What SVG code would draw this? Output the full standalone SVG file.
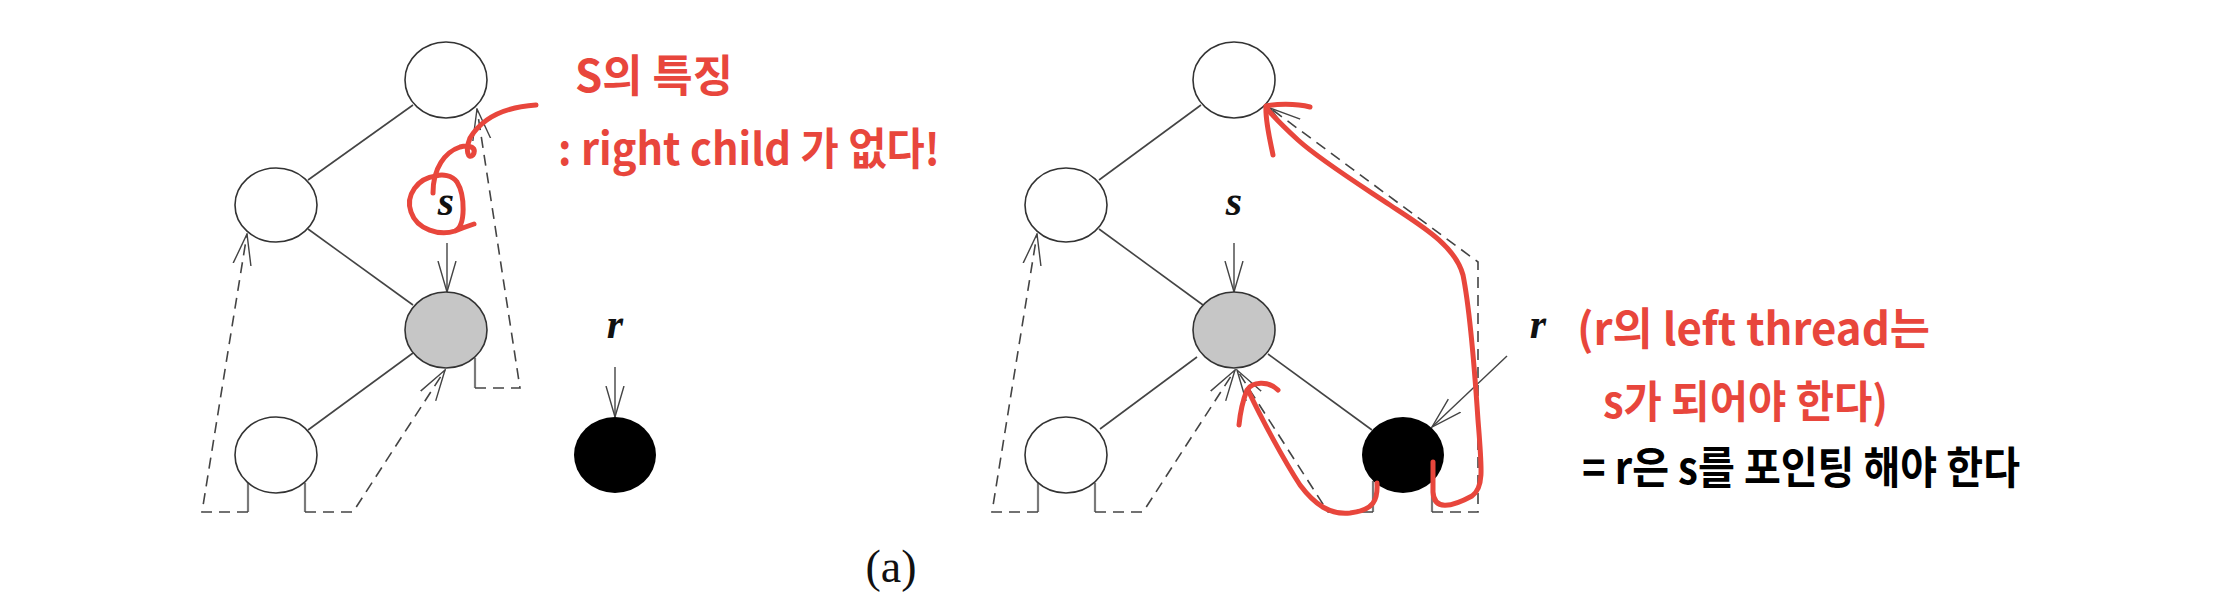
<svg xmlns="http://www.w3.org/2000/svg" width="2232" height="603" viewBox="0 0 2232 603">
<style>
.node{stroke:#333;stroke-width:1.6}
.w{fill:#fff}.g{fill:#c6c6c6}.b{fill:#000}
.edge{stroke:#444;stroke-width:1.6;fill:none}
.stub{stroke:#7a7a7a;stroke-width:2.2;fill:none}
.th{stroke:#444;stroke-width:1.6;fill:none;stroke-dasharray:11 7}
.ptr{stroke:#444;stroke-width:1.4;fill:none}
.lab{font-family:"Liberation Serif",serif;font-style:italic;font-weight:bold;font-size:42px;fill:#111}
.red{stroke:#e8463c;stroke-width:5;fill:none;stroke-linecap:round;stroke-linejoin:round}
.rt{font-family:"Noto Sans CJK KR",sans-serif;fill:#e8463c;font-size:44px;font-weight:bold}
.bt{font-family:"Noto Sans CJK KR",sans-serif;fill:#000;font-size:44px;font-weight:bold}
</style>
<defs>
<marker id="v" markerUnits="userSpaceOnUse" markerWidth="32" markerHeight="22" viewBox="0 0 32 22" refX="31" refY="11" orient="auto">
<path d="M0,2 L31,11 L0,20" fill="none" stroke="#444" stroke-width="1.4" stroke-dasharray="none"/>
</marker>
</defs>

<g id="edges">
<line class="edge" x1="413" y1="105" x2="308" y2="180"/>
<line class="edge" x1="308" y1="229" x2="413" y2="305"/>
<line class="edge" x1="413" y1="353" x2="308" y2="430"/>
<line class="edge" x1="1201" y1="105" x2="1099" y2="180"/>
<line class="edge" x1="1099" y1="229" x2="1203" y2="305"/>
<line class="edge" x1="1197" y1="357" x2="1100" y2="429"/>
<line class="edge" x1="1268" y1="354" x2="1372" y2="430"/>
</g>

<g id="threads">
<path class="stub" d="M248,482 L248,512 M305,483 L305,512 M475,358 L475,388"/>
<path class="th" d="M248,512 L202,512 L247,234" marker-end="url(#v)"/>
<path class="th" d="M305,512 L353,512 L445,370" marker-end="url(#v)"/>
<path class="th" d="M475,388 L520,388 L477,109" marker-end="url(#v)"/>
<path class="stub" d="M1038,482 L1038,512 M1095,483 L1095,512 M1373,481 L1373,512 M1432,481 L1432,512"/>
<path class="th" d="M1038,512 L992,512 L1037,234" marker-end="url(#v)"/>
<path class="th" d="M1095,512 L1143,512 L1235,370" marker-end="url(#v)"/>
<path class="th" d="M1373,512 L1328,512 L1237,370" marker-end="url(#v)"/>
<path class="th" d="M1432,512 L1478,512 L1478,262 L1270,108" marker-end="url(#v)"/>
</g>

<g id="pointers">
<line class="ptr" x1="447" y1="243" x2="447" y2="292" marker-end="url(#v)"/>
<line class="ptr" x1="615" y1="367" x2="615" y2="417" marker-end="url(#v)"/>
<line class="ptr" x1="1234" y1="243" x2="1234" y2="292" marker-end="url(#v)"/>
<line class="ptr" x1="1507" y1="356" x2="1432" y2="427" marker-end="url(#v)"/>
</g>

<g id="n-top-a"><ellipse class="node w" cx="446" cy="80" rx="41" ry="38"/></g>
<g id="n-left-a"><ellipse class="node w" cx="276" cy="205" rx="41" ry="37"/></g>
<g id="n-s-a"><ellipse class="node g" cx="446" cy="330" rx="41" ry="38"/></g>
<g id="n-bl-a"><ellipse class="node w" cx="276" cy="455" rx="41" ry="38"/></g>
<g id="n-r-a"><ellipse class="b" cx="615" cy="455" rx="41" ry="38"/></g>

<g id="n-top-b"><ellipse class="node w" cx="1234" cy="80" rx="41" ry="38"/></g>
<g id="n-left-b"><ellipse class="node w" cx="1066" cy="205" rx="41" ry="37"/></g>
<g id="n-s-b"><ellipse class="node g" cx="1234" cy="330" rx="41" ry="38"/></g>
<g id="n-bl-b"><ellipse class="node w" cx="1066" cy="455" rx="41" ry="38"/></g>
<g id="n-r-b"><ellipse class="b" cx="1403" cy="455" rx="41" ry="38"/></g>

<g id="labels">
<text class="lab" x="446" y="215" text-anchor="middle">s</text>
<text class="lab" x="615" y="338" text-anchor="middle">r</text>
<text class="lab" x="1234" y="215" text-anchor="middle">s</text>
<text class="lab" x="1538" y="338" text-anchor="middle">r</text>
<text x="891" y="582" text-anchor="middle" style="font-family:'Liberation Serif',serif;font-size:46px;fill:#111">(a)</text>
</g>

<g id="annotations">
<path class="red" d="M536,105 C505,107 482,118 470,138 C465,150 468,160 473,155 C477,148 470,144 460,147 C445,152 433,168 433,193"/>
<path class="red" d="M436,176 C418,178 405,195 411,212 C417,230 440,236 455,231 C466,226 465,195 457,182 C452,175 442,174 436,176 M455,231 C462,228 468,226 474,224"/>
<path class="red" d="M1433,462 L1433,492 C1434,510 1450,508 1472,496 C1484,488 1482,470 1478,420 C1474,360 1468,300 1463,275 C1455,245 1420,225 1390,205 C1360,185 1320,160 1298,140 C1285,128 1275,118 1268,110"/>
<path class="red" d="M1310,107 C1295,103 1275,104 1266,106 C1265,120 1270,140 1273,155"/>
<path class="red" d="M1377,483 C1378,500 1374,510 1350,513 C1330,515 1315,505 1300,485 C1285,462 1262,420 1248,390"/>
<path class="red" d="M1278,390 C1268,380 1252,382 1247,390 C1243,400 1240,415 1239,425"/>
<text class="rt" x="575" y="92" textLength="158" lengthAdjust="spacingAndGlyphs">S의 특징</text>
<text class="rt" x="558" y="165" textLength="382" lengthAdjust="spacingAndGlyphs">: right child 가 없다!</text>
<text class="rt" x="1577" y="345" textLength="353" lengthAdjust="spacingAndGlyphs">(r의 left thread는</text>
<text class="rt" x="1603" y="418" textLength="285" lengthAdjust="spacingAndGlyphs">s가 되어야 한다)</text>
<text class="bt" x="1582" y="484" textLength="438" lengthAdjust="spacingAndGlyphs">= r은 s를 포인팅 해야 한다</text>
</g>
</svg>
